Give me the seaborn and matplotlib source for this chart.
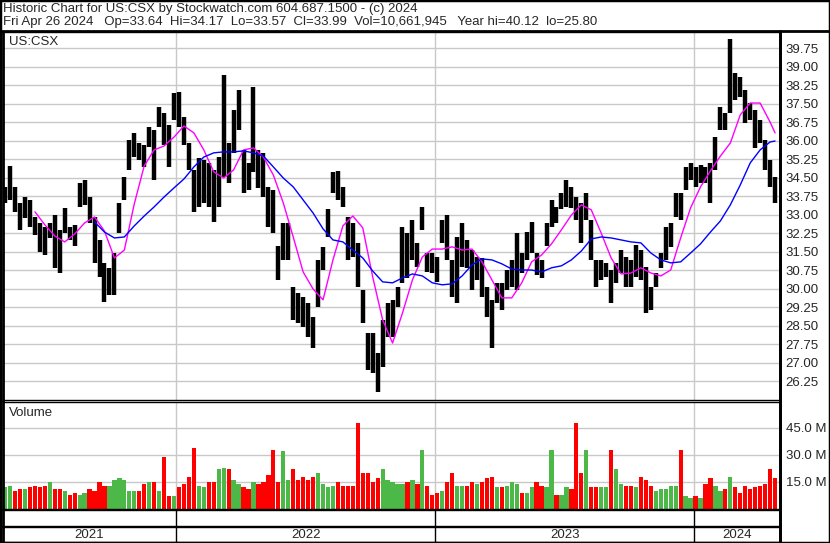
import matplotlib
matplotlib.use("Agg")
import matplotlib.pyplot as plt
from matplotlib.ticker import FormatStrFormatter, FixedFormatter
from matplotlib.lines import Line2D
from matplotlib.patches import Rectangle
import numpy as np
import pandas as pd
import seaborn as sns

# weekly price ranges (US:CSX, May 2021 - Apr 2024)
week_start = "2021-05-05"
week_high = [34.13, 34.98, 34.13, 33.48, 33.72, 33.60, 32.91, 32.67, 32.51, 32.67,
             32.99, 32.38, 33.28, 32.51, 32.59, 34.29, 34.41, 33.72, 32.91, 31.98,
             31.05, 30.84, 31.45, 33.48, 34.53, 36.03, 36.32, 35.91, 35.83, 36.56,
             36.44, 37.37, 37.13, 36.64, 37.94, 37.98, 36.97, 35.91, 34.82, 35.30,
             35.22, 35.10, 34.82, 35.34, 38.67, 35.91, 37.25, 38.06, 35.63, 35.10,
             38.18, 35.63, 35.51, 34.13, 34.01, 31.72, 32.67, 32.67, 30.07, 29.83,
             29.67, 29.43, 28.86, 31.17, 31.70, 33.22, 34.72, 34.76, 34.13, 32.91,
             32.67, 31.86, 29.95, 28.21, 28.21, 27.40, 28.74, 29.43, 29.55, 30.07,
             32.51, 32.26, 32.79, 31.86, 33.32, 31.45, 31.45, 31.29, 32.79, 32.99,
             31.17, 32.10, 32.67, 31.98, 31.57, 31.29, 31.25, 30.07, 29.55, 30.24,
             30.24, 30.76, 31.17, 32.26, 31.45, 32.30, 32.71, 31.45, 31.17, 32.67,
             33.60, 33.32, 33.88, 34.41, 34.13, 33.72, 33.48, 33.88, 32.79, 31.17,
             31.17, 31.05, 30.76, 31.05, 31.57, 31.29, 31.17, 31.78, 31.57, 30.88,
             30.07, 30.64, 31.45, 32.51, 32.67, 33.88, 33.88, 34.94, 35.10, 34.94,
             35.02, 34.94, 35.10, 36.15, 37.37, 37.13, 40.12, 38.75, 38.59, 38.06,
             37.53, 37.25, 36.84, 36.03, 35.22, 34.53]
week_low = [33.48, 33.60, 33.11, 32.38, 32.87, 32.51, 32.18, 31.49, 31.37, 32.06,
            30.84, 30.64, 32.26, 31.98, 31.72, 33.32, 33.40, 32.67, 31.05, 30.48,
            29.47, 29.75, 29.75, 32.26, 33.60, 34.82, 35.34, 35.22, 34.94, 35.75,
            34.41, 36.56, 35.83, 34.94, 36.84, 36.56, 35.83, 34.82, 33.11, 33.32,
            33.48, 33.32, 32.71, 33.32, 34.53, 34.29, 35.51, 36.44, 33.88, 34.01,
            34.72, 34.09, 33.72, 32.51, 32.26, 30.36, 31.17, 31.17, 28.74, 28.61,
            28.45, 28.05, 27.60, 29.26, 30.76, 32.10, 33.88, 33.60, 33.32, 31.17,
            31.29, 30.07, 28.61, 26.71, 26.59, 25.80, 26.83, 28.05, 28.05, 29.26,
            30.24, 30.44, 31.17, 30.88, 32.38, 30.68, 30.64, 30.28, 31.86, 31.17,
            29.67, 29.43, 30.88, 30.84, 29.95, 30.36, 29.67, 28.86, 27.60, 29.43,
            29.14, 29.95, 30.07, 29.95, 30.64, 31.17, 31.45, 30.56, 30.44, 31.72,
            32.51, 32.67, 33.22, 33.32, 33.28, 32.79, 31.86, 32.79, 31.17, 30.07,
            30.36, 30.48, 29.43, 30.24, 30.64, 30.07, 30.07, 30.48, 30.36, 29.02,
            29.14, 30.07, 30.84, 31.17, 31.68, 32.91, 32.79, 34.01, 34.41, 34.13,
            34.29, 34.29, 33.48, 34.82, 36.44, 36.44, 37.13, 37.65, 37.78, 36.72,
            36.84, 35.71, 35.91, 34.82, 34.13, 33.48]
# volume in millions of shares
week_vol = [12, 13, 10, 11, 11, 12, 13, 12, 13, 15,
            11, 11, 10, 8, 9, 8, 9, 11, 10, 15,
            13, 13, 16, 17, 16, 10, 10, 10, 14, 15,
            15, 10, 29, 7, 7, 12, 14, 18, 34, 13,
            12, 15, 15, 22, 23, 22, 16, 14, 12, 11,
            15, 14, 15, 19, 33, 15, 32, 16, 22, 16,
            18, 16, 18, 20, 14, 12, 13, 15, 13, 13,
            13, 48, 20, 20, 15, 17, 22, 16, 15, 14,
            14, 15, 16, 14, 33, 13, 8, 9, 10, 15,
            20, 13, 13, 13, 15, 14, 15, 17, 18, 12,
            12, 13, 15, 14, 9, 9, 12, 15, 13, 12,
            33, 8, 8, 12, 11, 48, 20, 33, 12, 12,
            12, 12, 33, 22, 14, 13, 13, 12, 18, 16,
            13, 10, 11, 11, 13, 13, 33, 7, 6, 7,
            6, 14, 17, 13, 10, 11, 18, 12, 9, 13,
            11, 12, 13, 14, 22, 17]

# moving averages read at every other week (fast: magenta, slow: blue)
fast_weeks = list(range(6, 155, 2)) + [155]
fast_ma = [33.12, 32.59, 32.14, 31.90, 32.22, 32.67, 32.91, 32.34, 31.25, 31.57,
           33.44, 34.98, 35.63, 35.79, 36.15, 36.60, 36.32, 35.63, 34.74, 34.49,
           34.82, 35.63, 35.71, 35.34, 34.61, 33.48, 32.10, 30.68, 29.99, 29.55,
           31.17, 32.55, 32.95, 32.47, 30.48, 28.74, 27.80, 29.02, 30.36, 31.29,
           31.61, 31.61, 31.70, 31.57, 31.61, 31.09, 30.36, 29.63, 29.63, 30.24,
           31.09, 31.37, 31.82, 32.39, 32.99, 33.40, 33.20, 32.26, 31.25, 30.60,
           30.64, 30.85, 30.64, 30.52, 30.76, 32.06, 33.28, 34.13, 34.78, 35.38,
           35.91, 37.05, 37.53, 37.53, 36.76, 36.32]
slow_weeks = list(range(18, 155, 2)) + [155]
slow_ma = [32.71, 32.30, 32.06, 32.10, 32.55, 32.95, 33.32, 33.72, 34.09, 34.45,
           34.94, 35.34, 35.51, 35.55, 35.55, 35.59, 35.51, 35.38, 34.94, 34.49,
           34.13, 33.60, 33.07, 32.43, 31.98, 31.90, 31.57, 31.25, 30.72, 30.28,
           30.24, 30.44, 30.60, 30.52, 30.24, 30.16, 30.20, 30.52, 30.97, 31.21,
           31.17, 31.01, 30.80, 30.76, 30.76, 30.68, 30.85, 30.93, 31.17, 31.53,
           32.02, 32.10, 32.06, 31.98, 31.90, 31.86, 31.45, 31.17, 31.05, 31.09,
           31.45, 31.82, 32.30, 32.75, 33.40, 34.21, 35.10, 35.63, 35.95, 35.99]

price_ticks = np.arange(26.25, 39.76, 0.75)
vol_ticks = [15, 30, 45]
years = [2021, 2022, 2023, 2024]

header1 = "Historic Chart for US:CSX by Stockwatch.com 604.687.1500 - (c) 2024"
header2 = ("Fri Apr 26 2024   Op=33.64  Hi=34.17  Lo=33.57  Cl=33.99  "
           "Vol=10,661,945   Year hi=40.12  lo=25.80")

sns.set_style("white")
plt.rcParams['font.family'] = ['Liberation Sans', 'DejaVu Sans']

W, H = 830, 543
fig = plt.figure(figsize=(W / 100, H / 100), dpi=100)


def box(x0, y0, x1, y1):
    return [x0 / W, 1 - y1 / H, (x1 - x0) / W, (y1 - y0) / H]


weeks = pd.date_range(week_start, periods=len(week_high), freq="7D")
mid = (np.array(week_high) + np.array(week_low)) / 2
vol_colors = ['#4cb848' if i == 0 or mid[i] >= mid[i - 1] else '#ff0000'
              for i in range(len(mid))]

x0, x1 = pd.Timestamp("2021-05-02"), pd.Timestamp("2024-05-01")
year_starts = [pd.Timestamp(f"{y}-01-01") for y in years[1:]]
grid_c = '#c8c8c8'

ax_p = fig.add_axes(box(3, 32, 780, 400))
ax_v = fig.add_axes(box(3, 402, 780, 509), sharex=ax_p)
ax_s = fig.add_axes(box(3, 510, 780, 526), sharex=ax_p)
ax_y = fig.add_axes(box(3, 527, 780, 542), sharex=ax_p)

# price panel
ax_p.set_ylim(25.49, 40.41)
ax_p.set_yticks(price_ticks)
ax_p.yaxis.set_major_formatter(FormatStrFormatter('%.2f'))
ax_p.grid(axis='y', color=grid_c, lw=1)
for d in year_starts:
    ax_p.axvline(d, color=grid_c, lw=1, zorder=0.5)
ax_p.vlines(weeks, week_low, week_high, color='black', lw=3.2, zorder=2)
sns.lineplot(x=weeks[fast_weeks], y=fast_ma, color='#ff00ff', lw=1, ax=ax_p, zorder=3)
sns.lineplot(x=weeks[slow_weeks], y=slow_ma, color='#0000ff', lw=1, ax=ax_p, zorder=3)
ax_p.text(0.008, 0.99, "US:CSX", transform=ax_p.transAxes, fontsize=9.5,
          va='top', ha='left')

# volume panel
ax_v.set_ylim(0, 59.4)
ax_v.set_yticks(vol_ticks)
ax_v.yaxis.set_major_formatter(FixedFormatter([f"{v:.1f} M" for v in vol_ticks]))
ax_v.grid(axis='y', color=grid_c, lw=1)
for d in year_starts:
    ax_v.axvline(d, color=grid_c, lw=1, zorder=0.5)
ax_v.bar(weeks, week_vol, width=6, color=vol_colors, lw=0, zorder=2)
ax_v.text(0.008, 0.95, "Volume", transform=ax_v.transAxes, fontsize=9.5,
          va='top', ha='left')

# year strip
for ax in (ax_s, ax_y):
    ax.set_ylim(0, 1)
    ax.set_yticks([])
    for d in year_starts:
        ax.axvline(d, color='black', lw=1)
bounds = [x0] + year_starts + [x1]
for y, a, b in zip(years, bounds[:-1], bounds[1:]):
    ax_y.text(a + (b - a) / 2, 0.45, str(y), ha='center', va='center', fontsize=9.5)

for ax in (ax_p, ax_v, ax_s, ax_y):
    ax.set_xlim(x0, x1)
    ax.tick_params(axis='x', bottom=False, labelbottom=False)
    ax.yaxis.tick_right()
    ax.tick_params(axis='y', length=0, pad=4, labelsize=9.5)
    ax.set_xlabel("")
    ax.set_ylabel("")
    for s in ax.spines.values():
        s.set_color('black')
        s.set_linewidth(1)
    ax.spines['right'].set_linewidth(2)
    ax.spines['left'].set_linewidth(2)

# frame and header
fig.add_artist(Rectangle((0, 0), 1, 1, transform=fig.transFigure, fill=False,
                         ec='black', lw=2.5))
fig.add_artist(Line2D([0, 1], [1 - 31 / H] * 2, transform=fig.transFigure,
                      color='black', lw=2))
fig.add_artist(Line2D([780 / W] * 2, [0, 1 - 31 / H], transform=fig.transFigure,
                      color='black', lw=2))
fig.text(3 / W, 1 - 9 / H, header1, fontsize=9.5, va='center', ha='left')
fig.text(3 / W, 1 - 22 / H, header2, fontsize=9.5, va='center', ha='left')

fig.savefig("out.png", dpi=100)
